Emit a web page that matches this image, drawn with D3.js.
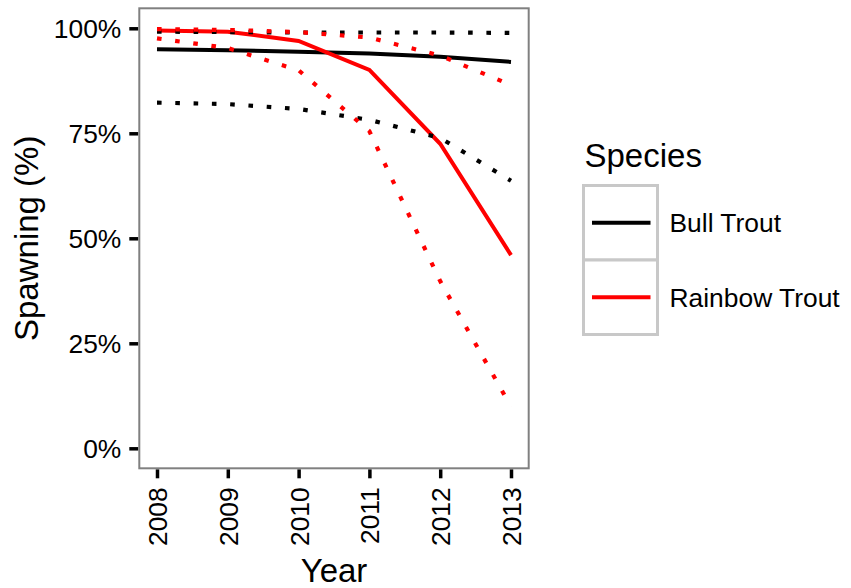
<!DOCTYPE html>
<html>
<head>
<meta charset="utf-8">
<script src="https://cdn.jsdelivr.net/npm/d3@7"></script>
<style>
  body { margin: 0; background: #fff; }
  text { font-family: "Liberation Sans", Arial, sans-serif; fill: #000; }
</style>
</head>
<body>
<div id="chart"></div>
<script>
var width = 851;
var height = 588;

// data (percent spawning)
var years = [2008, 2009, 2010, 2011, 2012, 2013];
var bullEst     = [95.0, 94.8, 94.4, 94.0, 93.2, 92.0];
var bullLower   = [82.3, 81.95, 80.8, 78.2, 73.9, 63.7];
var bullUpper   = [99.2, 99.1, 99.0, 99.0, 99.0, 98.9];
var rainbowEst   = [99.5, 99.2, 97.0, 90.1, 72.5, 46.0];
var rainbowLower = [97.6, 95.3, 90.0, 75.5, 39.8, 9.9];
var rainbowUpper = [99.8, 99.6, 99.1, 97.8, 93.5, 86.5];
var yTicks = [0, 25, 50, 75, 100];
var species = ["Bull Trout", "Rainbow Trout"];
var speciesColors = ["#000000", "#ff0000"];

var panel = {left: 139.3, right: 528.7, top: 8.3, bottom: 468.3};

var svg = d3.select("#chart")
            .append("svg")
            .attr("width", width)
            .attr("height", height);

var x = d3.scaleLinear()
          .domain([2007.75, 2013.25])
          .range([panel.left, panel.right]);

var y = d3.scaleLinear()
          .domain([-4.76, 104.76])
          .range([panel.bottom, panel.top]);

var color = d3.scaleOrdinal().domain(species).range(speciesColors);

// y axis
var yAxis = d3.axisLeft(y)
              .tickValues(yTicks)
              .tickSize(9)
              .tickPadding(8)
              .tickFormat(function(d) { return d + "%"; });

var gy = svg.append("g")
            .attr("transform", "translate(" + (panel.left - 1) + ",0)")
            .call(yAxis);
gy.select(".domain").remove();
gy.selectAll(".tick line").attr("stroke", "#000").attr("stroke-width", 3.5);
gy.selectAll(".tick text")
  .style("font-size", "26.4px")
  .attr("dy", "0.36em");

// x axis
var xAxis = d3.axisBottom(x)
              .tickValues(years)
              .tickSize(9)
              .tickFormat(d3.format("d"));

var gx = svg.append("g")
            .attr("transform", "translate(0," + (panel.bottom + 1) + ")")
            .call(xAxis);
gx.select(".domain").remove();
gx.selectAll(".tick line").attr("stroke", "#000").attr("stroke-width", 3.5);
gx.selectAll(".tick text")
  .style("font-size", "26.4px")
  .attr("text-anchor", "end")
  .attr("transform", "rotate(-90)")
  .attr("x", -18)
  .attr("y", 0)
  .attr("dy", "0.36em");

// lines
var line = d3.line()
             .x(function(d) { return x(d[0]); })
             .y(function(d) { return y(d[1]); });

function pts(vals) {
    return years.map(function(yr, i) { return [yr, vals[i]]; });
}

var solids = [
    {sp: "Bull Trout", vals: bullEst},
    {sp: "Rainbow Trout", vals: rainbowEst}
];
var dotted = [
    {sp: "Bull Trout", vals: bullLower},
    {sp: "Bull Trout", vals: bullUpper},
    {sp: "Rainbow Trout", vals: rainbowLower},
    {sp: "Rainbow Trout", vals: rainbowUpper}
];

svg.append("g")
   .selectAll("path")
   .data(solids)
   .enter()
   .append("path")
   .attr("d", function(d) { return line(pts(d.vals)); })
   .attr("fill", "none")
   .attr("stroke", function(d) { return color(d.sp); })
   .attr("stroke-width", 4);

svg.append("g")
   .selectAll("path")
   .data(dotted)
   .enter()
   .append("path")
   .attr("d", function(d) { return line(pts(d.vals)); })
   .attr("fill", "none")
   .attr("stroke", function(d) { return color(d.sp); })
   .attr("stroke-width", 4.2)
   .attr("stroke-dasharray", "4.6,13.7");

// panel border
svg.append("rect")
   .attr("x", panel.left)
   .attr("y", panel.top)
   .attr("width", panel.right - panel.left)
   .attr("height", panel.bottom - panel.top)
   .attr("fill", "none")
   .attr("stroke", "#808080")
   .attr("stroke-width", 2);

// axis titles
svg.append("text")
   .attr("x", (panel.left + panel.right) / 2)
   .attr("y", 582)
   .attr("text-anchor", "middle")
   .style("font-size", "33px")
   .text("Year");

svg.append("text")
   .attr("transform", "translate(38," + ((panel.top + panel.bottom) / 2) + ") rotate(-90)")
   .attr("text-anchor", "middle")
   .style("font-size", "33px")
   .text("Spawning (%)");

// legend
var legend = svg.append("g").attr("transform", "translate(583.5,185.5)");
var keyW = 74, keyH = 74.5;

legend.append("text")
      .attr("x", 1)
      .attr("y", -19)
      .style("font-size", "33px")
      .text("Species");

var items = legend.selectAll("g.item")
                  .data(species)
                  .enter()
                  .append("g")
                  .attr("class", "item")
                  .attr("transform", function(d, i) { return "translate(0," + (i * keyH) + ")"; });

items.append("rect")
     .attr("width", keyW)
     .attr("height", keyH)
     .attr("fill", "#fff")
     .attr("stroke", "#c8c8c8")
     .attr("stroke-width", 3);

items.append("line")
     .attr("x1", 8.5)
     .attr("x2", 67)
     .attr("y1", keyH / 2)
     .attr("y2", keyH / 2)
     .attr("stroke", function(d) { return color(d); })
     .attr("stroke-width", 4);

items.append("text")
      .attr("x", 86)
      .attr("y", keyH / 2)
      .attr("dy", "0.36em")
      .style("font-size", "26.4px")
      .text(function(d) { return d; });
</script>
</body>
</html>
